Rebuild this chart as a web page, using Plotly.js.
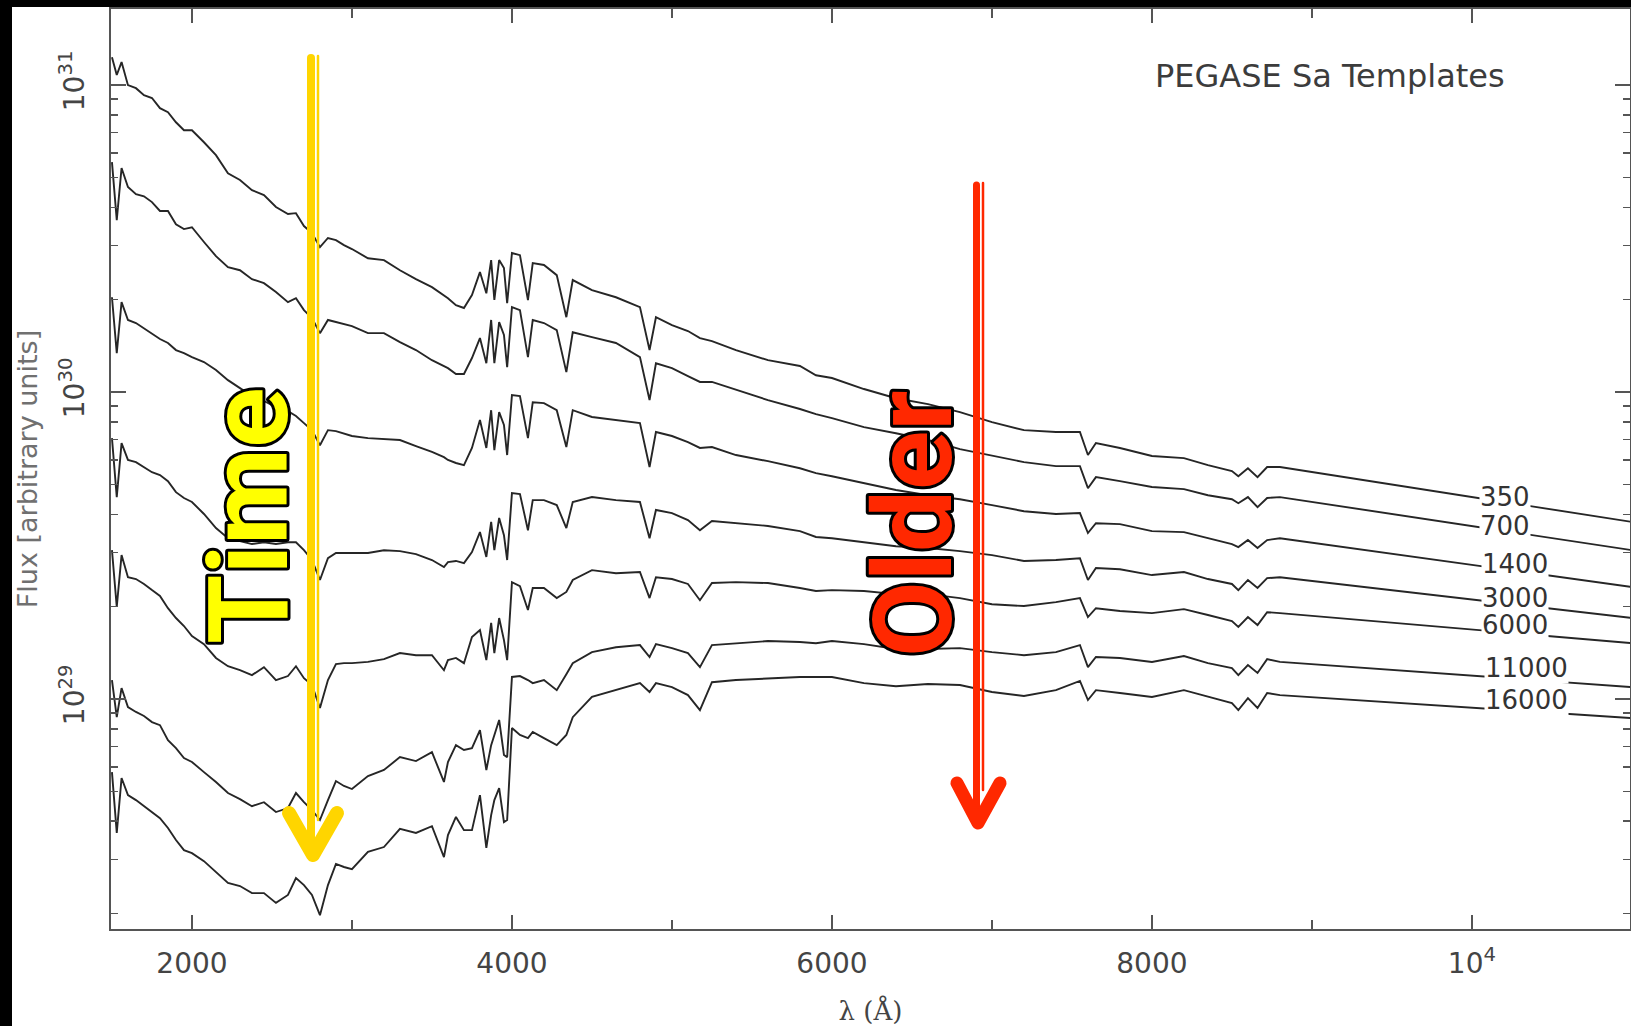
<!DOCTYPE html>
<html><head><meta charset="utf-8">
<script src="https://cdn.plot.ly/plotly-3.0.1.min.js"></script>
<style>
html,body{margin:0;padding:0;background:#000;width:1631px;height:1026px;overflow:hidden;}
#chart{position:absolute;left:12px;top:7px;width:1619px;height:1019px;background:#fff;}
.shapelayer path{stroke-linecap:round;stroke-linejoin:round;}
text[data-unformatted="Time"],text[data-unformatted="Older"]{stroke:#000;stroke-width:6px;paint-order:stroke fill;stroke-linejoin:round;}
</style></head><body><div id="chart"></div><script>
// Wavelength grid (Angstrom), shared by all templates
const wavelength = [1500,1530,1560,1600,1650,1700,1750,1800,1850,1900,1950,2000,2075,2150,2225,2300,2375,2450,2525,2600,2650,2700,2750,2800,2850,2900,2950,3000,3100,3200,3300,3400,3500,3575,3600,3650,3700,3750,3800,3840,3870,3890,3920,3950,3970,4000,4050,4100,4130,4200,4280,4340,4380,4500,4650,4800,4860,4900,5000,5100,5175,5250,5400,5600,5800,5900,6000,6200,6400,6600,6800,7000,7200,7400,7550,7600,7650,7800,8000,8200,8350,8500,8540,8600,8660,8720,8800,11000];

// log10(Flux) for each age (Myr)
const logF350 = [31.091,31.033,31.075,31.000,30.990,30.967,30.958,30.925,30.912,30.879,30.853,30.853,30.814,30.772,30.713,30.691,30.658,30.642,30.603,30.580,30.583,30.541,30.518,30.472,30.502,30.495,30.479,30.466,30.436,30.430,30.397,30.368,30.342,30.313,30.306,30.283,30.274,30.316,30.391,30.322,30.430,30.300,30.430,30.404,30.290,30.453,30.446,30.300,30.420,30.414,30.381,30.244,30.365,30.332,30.309,30.277,30.137,30.244,30.218,30.199,30.176,30.166,30.137,30.104,30.085,30.055,30.046,30.010,29.980,29.961,29.935,29.902,29.876,29.870,29.870,29.795,29.834,29.818,29.792,29.785,29.762,29.743,29.726,29.752,29.723,29.756,29.756,29.577];
const logF700 = [30.749,30.560,30.730,30.668,30.645,30.638,30.619,30.590,30.590,30.547,30.531,30.537,30.489,30.443,30.407,30.397,30.368,30.355,30.326,30.293,30.306,30.267,30.241,30.192,30.235,30.228,30.221,30.215,30.192,30.192,30.163,30.137,30.104,30.085,30.078,30.059,30.059,30.111,30.176,30.094,30.235,30.094,30.228,30.186,30.081,30.277,30.267,30.114,30.235,30.225,30.202,30.065,30.195,30.179,30.160,30.114,29.974,30.094,30.078,30.052,30.033,30.033,30.007,29.974,29.945,29.928,29.915,29.886,29.866,29.844,29.814,29.792,29.772,29.759,29.759,29.687,29.723,29.710,29.691,29.684,29.664,29.651,29.638,29.658,29.625,29.655,29.658,29.485];
const logF1400 = [30.309,30.127,30.293,30.235,30.225,30.208,30.192,30.173,30.160,30.137,30.127,30.114,30.098,30.072,30.039,30.013,29.987,29.971,29.951,29.938,29.922,29.899,29.876,29.827,29.876,29.873,29.866,29.857,29.850,29.847,29.844,29.824,29.805,29.788,29.779,29.769,29.762,29.818,29.909,29.818,29.941,29.811,29.935,29.893,29.795,29.990,29.987,29.850,29.967,29.964,29.941,29.821,29.941,29.919,29.909,29.899,29.756,29.870,29.857,29.837,29.818,29.821,29.795,29.775,29.752,29.736,29.726,29.704,29.681,29.664,29.651,29.632,29.612,29.603,29.606,29.541,29.573,29.570,29.547,29.544,29.524,29.505,29.495,29.518,29.492,29.518,29.524,29.365];
const logF3000 = [29.850,29.658,29.834,29.779,29.772,29.756,29.739,29.730,29.710,29.674,29.655,29.642,29.603,29.557,29.524,29.515,29.505,29.511,29.505,29.511,29.511,29.485,29.453,29.388,29.459,29.476,29.476,29.476,29.476,29.485,29.482,29.472,29.453,29.430,29.446,29.450,29.443,29.479,29.544,29.463,29.577,29.485,29.590,29.534,29.453,29.671,29.668,29.550,29.648,29.648,29.632,29.557,29.642,29.658,29.648,29.642,29.524,29.616,29.606,29.583,29.550,29.580,29.573,29.564,29.547,29.528,29.524,29.511,29.498,29.492,29.482,29.469,29.450,29.453,29.459,29.388,29.427,29.423,29.404,29.414,29.391,29.375,29.355,29.388,29.362,29.394,29.397,29.264];
const logF6000 = [29.485,29.300,29.469,29.397,29.391,29.375,29.355,29.336,29.296,29.264,29.238,29.205,29.179,29.134,29.107,29.094,29.078,29.104,29.062,29.075,29.107,29.068,29.046,28.971,29.062,29.114,29.117,29.117,29.121,29.130,29.150,29.143,29.143,29.094,29.127,29.134,29.117,29.202,29.225,29.127,29.248,29.150,29.264,29.192,29.127,29.381,29.368,29.290,29.362,29.362,29.329,29.349,29.388,29.420,29.410,29.414,29.329,29.397,29.391,29.375,29.322,29.378,29.381,29.378,29.362,29.352,29.355,29.352,29.342,29.342,29.329,29.309,29.303,29.316,29.329,29.267,29.296,29.287,29.280,29.293,29.274,29.254,29.235,29.267,29.241,29.283,29.280,29.182];
const logF11000 = [29.062,28.941,29.036,28.974,28.958,28.945,28.925,28.915,28.866,28.840,28.808,28.795,28.762,28.730,28.694,28.674,28.651,28.664,28.632,28.645,28.694,28.664,28.638,28.606,28.671,28.733,28.717,28.707,28.749,28.769,28.811,28.798,28.827,28.730,28.795,28.850,28.834,28.840,28.899,28.769,28.850,28.883,28.932,28.818,28.811,29.072,29.075,29.062,29.052,29.062,29.029,29.081,29.117,29.153,29.169,29.176,29.137,29.179,29.166,29.150,29.104,29.176,29.182,29.189,29.186,29.182,29.189,29.179,29.163,29.163,29.166,29.153,29.143,29.153,29.176,29.104,29.137,29.134,29.121,29.140,29.117,29.101,29.078,29.111,29.085,29.130,29.121,29.039];
const logF16000 = [28.762,28.564,28.743,28.687,28.671,28.651,28.632,28.612,28.580,28.541,28.508,28.498,28.472,28.436,28.401,28.391,28.368,28.368,28.336,28.362,28.417,28.394,28.362,28.296,28.394,28.463,28.453,28.446,28.502,28.518,28.577,28.564,28.586,28.485,28.557,28.616,28.573,28.573,28.687,28.515,28.622,28.671,28.710,28.599,28.606,28.906,28.883,28.873,28.893,28.873,28.850,28.883,28.941,29.007,29.029,29.052,29.023,29.052,29.039,29.013,28.964,29.055,29.062,29.068,29.072,29.072,29.072,29.052,29.042,29.049,29.046,29.023,29.010,29.029,29.059,28.997,29.029,29.020,29.007,29.029,29.007,28.987,28.964,29.003,28.971,29.020,29.013,28.938];

const ageLabels = ['350','700','1400','3000','6000','11000','16000'];
const labelX = [10206,10206,10269,10269,10269,10338,10338];
const labelY = [29.658,29.564,29.440,29.329,29.241,29.101,28.997];

const xTickVals = [2000,4000,6000,8000,10000];
const xTickText = ['2000','4000','6000','8000','10<sup>4</sup>'];
const xMinorVals = [3000,5000,7000,9000];
const yTickVals = [29,30,31];
const yTickText = ['10<sup>29</sup>','10<sup>30</sup>','10<sup>31</sup>'];

const series = [logF350,logF700,logF1400,logF3000,logF6000,logF11000,logF16000];

// minor (log) ticks between decades
const yMinorVals = [];
[28,29,30].forEach(function(n){ for (let k=2;k<=9;k++){ yMinorVals.push(n+Math.log10(k)); } });

const traces = series.map(function(s,i){
  return {type:'scatter', mode:'lines', x:wavelength, y:s, name:ageLabels[i],
          line:{color:'#262626', width:1.9}, hoverinfo:'skip'};
});

// page-pixel helpers for decorative overlays (plot area 111..1630 x 9..929)
const PX0=111, PX1=1630, PY0=9, PY1=929;
function fx(p){ return (p-PX0)/(PX1-PX0); }
function fy(p){ return (PY1-p)/(PY1-PY0); }
function vpath(a){ return 'M'+fx(a[0])+','+fy(a[1])+' L'+fx(a[2])+','+fy(a[3])+' L'+fx(a[4])+','+fy(a[5]); }

const yellow='rgb(255,213,0)', red='rgb(255,40,0)';
const shapes = [
  {type:'line', xref:'paper', yref:'paper', x0:fx(311), x1:fx(311), y0:fy(58), y1:fy(845), line:{color:yellow, width:8}},
  {type:'line', xref:'paper', yref:'paper', x0:fx(318), x1:fx(318), y0:fy(56), y1:fy(820), line:{color:yellow, width:2.5}},
  {type:'path', xref:'paper', yref:'paper', path:vpath([289,813,313,855,337,813]), line:{color:yellow, width:14}},
  {type:'line', xref:'paper', yref:'paper', x0:fx(976.5), x1:fx(976.5), y0:fy(185), y1:fy(815), line:{color:red, width:7}},
  {type:'line', xref:'paper', yref:'paper', x0:fx(983), x1:fx(983), y0:fy(183), y1:fy(790), line:{color:red, width:2.5}},
  {type:'path', xref:'paper', yref:'paper', path:vpath([957,783,978,823,1000,783]), line:{color:red, width:13}}
];

const annotations = [
  {text:'PEGASE Sa Templates', xref:'paper', yref:'paper', x:fx(1330), y:fy(76), xanchor:'center', yanchor:'middle', showarrow:false,
   font:{family:'DejaVu Sans', size:32, color:'#3c3c3c'}},
  {text:'Time', xref:'paper', yref:'paper', x:fx(248), y:fy(516), xanchor:'center', yanchor:'middle', textangle:-90, showarrow:false,
   font:{family:'Roboto', weight:700, size:112, color:'#FFFF00'}},
  {text:'Older', xref:'paper', yref:'paper', x:fx(914), y:fy(524), xanchor:'center', yanchor:'middle', textangle:-90, showarrow:false,
   font:{family:'Roboto', weight:700, size:110, color:red}}
];
ageLabels.forEach(function(t,i){
  annotations.push({text:t, xref:'x', yref:'y', x:labelX[i], y:labelY[i], xanchor:'center', yanchor:'middle', showarrow:false,
    bgcolor:'#ffffff', borderpad:0, font:{family:'DejaVu Sans', size:26, color:'#333'}});
});

const axisCol = '#555';
const layout = {
  width:1619, height:1019,
  margin:{l:99, r:1, t:2, b:97},
  paper_bgcolor:'#fff', plot_bgcolor:'#fff',
  showlegend:false,
  xaxis:{
    type:'linear', range:[1494,10988],
    tickmode:'array', tickvals:xTickVals, ticktext:xTickText,
    ticks:'inside', ticklen:14, tickwidth:1.5, tickcolor:axisCol,
    minor:{tickmode:'array', tickvals:xMinorVals, ticks:'inside', ticklen:9, tickwidth:1.5, tickcolor:axisCol, showgrid:false},
    showline:true, linecolor:axisCol, linewidth:2, mirror:'allticks',
    showgrid:false, zeroline:false,
    tickfont:{family:'DejaVu Sans', size:28, color:'#444'},
    ticklabelstandoff:8,
    title:{text:'λ (Å)', font:{family:'DejaVu Serif', size:26, color:'#444'}, standoff:30}
  },
  yaxis:{
    type:'linear', range:[28.251,31.248],
    tickmode:'array', tickvals:yTickVals, ticktext:yTickText, tickangle:-90,
    ticks:'inside', ticklen:15, tickwidth:1.5, tickcolor:axisCol,
    minor:{tickmode:'array', tickvals:yMinorVals, ticks:'inside', ticklen:7, tickwidth:1.5, tickcolor:axisCol, showgrid:false},
    showline:true, linecolor:axisCol, linewidth:2, mirror:'allticks',
    showgrid:false, zeroline:false,
    tickfont:{family:'DejaVu Sans', size:28, color:'#444'},
    ticklabelstandoff:14,
    title:{text:'Flux [arbitrary units]', font:{family:'DejaVu Sans', size:27, color:'#707070'}, standoff:12}
  },
  shapes:shapes,
  annotations:annotations
};

Plotly.newPlot('chart', traces, layout, {staticPlot:true, displayModeBar:false});
</script></body></html>
